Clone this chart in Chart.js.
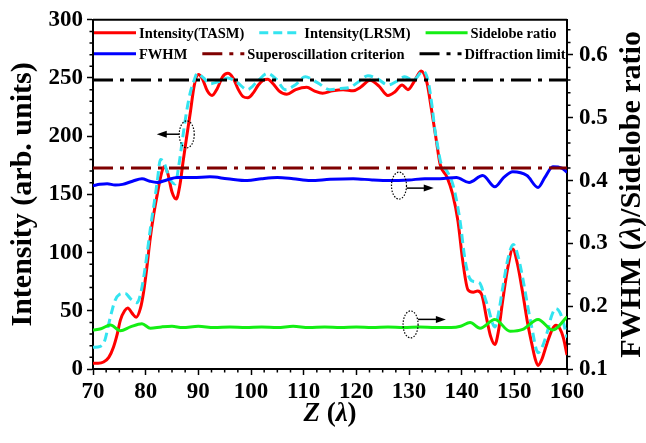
<!DOCTYPE html>
<html>
<head>
<meta charset="utf-8">
<script src="https://cdn.jsdelivr.net/npm/chart.js@4.4.1/dist/chart.umd.min.js"></script>
<style>
  html, body { margin: 0; padding: 0; background: #fff; }
</style>
</head>
<body>
<canvas id="chart" width="646" height="443"></canvas>
<script>
// Axial profile along Z (in λ)
const tasmZ = [70, 71, 72, 73, 73.9, 74.6, 75.2, 76, 76.6, 77.4, 78.2, 79, 79.6, 80.3, 80.8, 81.5, 82.2, 83, 83.5, 84.2, 85, 85.8, 86.5, 87.1, 87.8, 88.5, 89.2, 90, 90.8, 91.7, 92.6, 93.6, 94.6, 95.6, 96.6, 97.6, 98.5, 99.4, 100.4, 101.4, 102.3, 103.2, 104.2, 105.3, 106.8, 108.5, 110.6, 112, 113.6, 115.5, 117.5, 119.4, 120.8, 122.6, 124.3, 126, 127.3, 128.7, 129.8, 131, 132.3, 133.4, 134.3, 135.2, 135.9, 137.2, 138.3, 139.3, 140.2, 141.2, 142.2, 143, 143.8, 144.8, 145.5, 146.3, 147, 147.8, 148.8, 149.7, 150.6, 151.6, 152.5, 153.3, 154, 154.5, 155.2, 156.2, 157.2, 157.9, 158.6, 159.3, 160];
const tasmI = [5, 5, 6, 10, 19, 30, 42, 50, 52.5, 48, 44.5, 52, 66, 90, 110, 132, 150, 168, 174, 168, 152, 146, 158, 178, 200, 221, 243, 253, 249, 239, 235, 241, 251, 254, 250, 240, 234, 233, 237, 244, 248, 249, 245, 239, 236, 240, 242, 239, 237, 239, 240, 239, 242, 248, 243, 235, 238, 244, 240, 247, 256, 246, 222, 196, 176, 165, 150, 127, 93, 68, 66, 67, 64, 42, 28, 21, 33, 59, 88, 103, 90, 65, 40, 22, 8, 3, 8, 22, 34, 37.5, 35, 27, 12];

const lrsmZ = [70, 71.4, 72.2, 73, 73.6, 74.2, 75, 76.1, 77.2, 78.4, 79, 79.6, 80.3, 80.9, 81.6, 82.2, 82.8, 83.5, 84.5, 85.6, 86.3, 87.1, 87.8, 88.5, 89.2, 89.8, 91, 92.2, 93.9, 95.6, 97.4, 99.3, 101.2, 103.1, 104.8, 106.5, 108.4, 110.3, 112.6, 115, 117, 118.8, 120.5, 122.2, 124.1, 126, 127.6, 129.2, 130.8, 132.7, 133.6, 134.4, 134.9, 135.5, 136, 137.2, 138, 138.7, 139.7, 140.6, 141.5, 142.4, 143.4, 144.3, 145, 146.3, 147, 147.8, 148.8, 149.8, 150.7, 151.6, 152.5, 153.3, 154.5, 155.3, 156.2, 157.1, 157.9, 158.6, 159.2, 160];
const lrsmI = [18.7, 19.5, 24, 39, 50, 59, 64, 65, 60, 57, 64, 78, 100, 121, 142, 161, 180, 177, 164, 159, 175, 201, 222, 238, 248, 254, 250, 245, 247, 250, 246, 240, 247, 254, 249, 240, 244, 251, 246, 240, 241, 242, 247, 252, 249, 244, 247, 251, 248, 256, 248, 225, 206, 190, 178, 170, 163, 152, 127, 95, 78, 75, 74, 63, 53, 36, 48, 70, 95, 107, 97, 78, 55, 36, 14, 19, 31, 46, 52, 49, 42, 27];

const fwhmZ = [70, 71.3, 72.7, 74.2, 75.6, 77.5, 79.3, 80.8, 82.2, 84, 86, 89, 92.2, 95.5, 99.3, 102, 105, 108, 111.3, 115, 119.4, 123, 126.4, 130, 133, 135.9, 139, 141.4, 144, 146.3, 148, 149.7, 152.4, 154.5, 155.8, 157.3, 159, 160];
const fwhmR = [0.392, 0.394, 0.395, 0.393, 0.394, 0.399, 0.403, 0.399, 0.397, 0.401, 0.405, 0.405, 0.406, 0.403, 0.400, 0.403, 0.405, 0.403, 0.400, 0.402, 0.403, 0.401, 0.400, 0.401, 0.403, 0.403, 0.405, 0.397, 0.408, 0.390, 0.405, 0.414, 0.408, 0.389, 0.405, 0.422, 0.420, 0.413];

const sideZ = [70, 71.5, 73.3, 75.2, 77.1, 79.3, 80.9, 83, 85, 87, 90, 93, 96, 99, 102, 105, 108, 111, 114, 117, 120, 123, 126, 129, 132, 135, 138, 139.8, 141.6, 143.5, 146.3, 149.2, 151.6, 154.5, 157.3, 160];
const sideR = [0.162, 0.164, 0.170, 0.161, 0.167, 0.172, 0.165, 0.167, 0.168, 0.166, 0.168, 0.166, 0.167, 0.166, 0.167, 0.166, 0.168, 0.166, 0.167, 0.166, 0.167, 0.166, 0.167, 0.166, 0.167, 0.166, 0.166, 0.168, 0.174, 0.165, 0.179, 0.160, 0.163, 0.179, 0.162, 0.183];

// Reference levels on the right axis
const zRange = [70, 160];
const superCriterion = 0.42;
const diffractionLimit = 0.56;

// Axis ticks
const xTicks = { min: 70, max: 160, step: 10, minor: 2.5 };
const yTicks = { min: 0, max: 300, step: 50, minor: 10 };
const y2Ticks = { min: 0.1, max: 0.656, step: 0.1, minor: 0.02 };

// Dotted ellipses with arrows pointing to the axis each curve belongs to
const markers = [
  { axis: 'y', z: 87.8, v: 201.6, arrowV: 201.7, tipZ: 82.1 },
  { axis: 'y2', z: 128.1, v: 0.392, arrowV: 0.388, tipZ: 134.7 },
  { axis: 'y2', z: 130.3, v: 0.171, arrowV: 0.179, tipZ: 137 }
];

const serif = '"Liberation Serif", "Times New Roman", serif';
const toPoints = (xs, ys) => xs.map((x, i) => ({ x: x, y: ys[i] }));
const flat = (v) => zRange.map(x => ({ x: x, y: v }));
const dashDot = [20, 7, 4, 7];

const datasets = [
  { label: 'Intensity(TASM)', data: toPoints(tasmZ, tasmI), yAxisID: 'y',
    borderColor: '#ff0000', borderWidth: 3, order: 5 },
  { label: 'Intensity(LRSM)', data: toPoints(lrsmZ, lrsmI), yAxisID: 'y',
    borderColor: '#33e4f0', borderWidth: 3, borderDash: [9, 5], order: 4 },
  { label: 'Sidelobe ratio', data: toPoints(sideZ, sideR), yAxisID: 'y2',
    borderColor: '#14ee14', borderWidth: 3, order: 3 },
  { label: 'FWHM', data: toPoints(fwhmZ, fwhmR), yAxisID: 'y2',
    borderColor: '#0000ff', borderWidth: 3, order: 2 },
  { label: 'Superoscillation criterion', data: flat(superCriterion), yAxisID: 'y2',
    borderColor: '#7f0000', borderWidth: 3, borderDash: dashDot, order: 1 },
  { label: 'Diffraction limit', data: flat(diffractionLimit), yAxisID: 'y2',
    borderColor: '#000000', borderWidth: 3, borderDash: dashDot, order: 0 }
];
datasets.forEach(d => {
  d.pointRadius = 0;
  d.fill = false;
  d.cubicInterpolationMode = 'monotone';
});

const tickFont = { family: serif, size: 23, weight: 'bold' };
const gridOpts = { drawOnChartArea: false, tickLength: 6, tickColor: '#000', tickWidth: 1.5 };
const borderOpts = { color: '#000', width: 2 };

// legend drawn inside the plot, flowing left to right
const insetLegend = {
  id: 'insetLegend',
  afterDraw(chart) {
    const { ctx, chartArea } = chart;
    const sample = 42, gap = 3, spacing = 15, rowH = 21;
    ctx.save();
    ctx.font = 'bold 14.5px ' + serif;
    ctx.textBaseline = 'middle';
    let x = chartArea.left + 1, y = chartArea.top + 13;
    chart.data.datasets.forEach(ds => {
      const w = sample + gap + ctx.measureText(ds.label).width;
      if (x + w > chartArea.right + 2) {
        x = chartArea.left + 1;
        y += rowH;
      }
      ctx.strokeStyle = ds.borderColor;
      ctx.lineWidth = 3;
      ctx.setLineDash(ds.borderDash || []);
      ctx.beginPath();
      ctx.moveTo(x, y);
      ctx.lineTo(x + sample, y);
      ctx.stroke();
      ctx.setLineDash([]);
      ctx.fillStyle = '#000';
      ctx.fillText(ds.label, x + sample + gap, y + 1);
      x += w + spacing;
    });
    ctx.restore();
  }
};

// frame, minor ticks, markers and axis titles
const decorations = {
  id: 'decorations',
  afterDraw(chart) {
    const { ctx, chartArea, scales } = chart;
    ctx.save();
    ctx.strokeStyle = '#000';
    ctx.lineWidth = 2;
    ctx.beginPath();
    ctx.moveTo(chartArea.left, chartArea.top);
    ctx.lineTo(chartArea.right, chartArea.top);
    ctx.stroke();

    ctx.lineWidth = 1.5;
    const minor = (scale, t, draw) => {
      for (let v = t.min; v <= t.max + 1e-9; v += t.minor) {
        const k = (v - t.min) / t.step;
        if (Math.abs(k - Math.round(k)) < 1e-6) continue;
        draw(scale.getPixelForValue(v));
      }
    };
    ctx.beginPath();
    minor(scales.x, xTicks, p => { ctx.moveTo(p, chartArea.bottom); ctx.lineTo(p, chartArea.bottom + 3.5); });
    minor(scales.y, yTicks, p => { ctx.moveTo(chartArea.left, p); ctx.lineTo(chartArea.left - 3.5, p); });
    minor(scales.y2, y2Ticks, p => { ctx.moveTo(chartArea.right, p); ctx.lineTo(chartArea.right + 3.5, p); });
    ctx.stroke();

    markers.forEach(m => {
      const cx = scales.x.getPixelForValue(m.z);
      const cy = scales[m.axis].getPixelForValue(m.v);
      const ay = scales[m.axis].getPixelForValue(m.arrowV);
      const tip = scales.x.getPixelForValue(m.tipZ);
      const rx = 7.5, ry = 13.5;
      ctx.lineWidth = 1.2;
      ctx.setLineDash([1.5, 1.5]);
      ctx.beginPath();
      ctx.ellipse(cx, cy, rx, ry, 0, 0, Math.PI * 2);
      ctx.stroke();
      ctx.setLineDash([]);
      const dir = tip > cx ? 1 : -1;
      const start = cx + dir * rx;
      ctx.lineWidth = 1.5;
      ctx.beginPath();
      ctx.moveTo(start, ay);
      ctx.lineTo(tip - dir * 8, ay);
      ctx.stroke();
      ctx.fillStyle = '#000';
      ctx.beginPath();
      ctx.moveTo(tip, ay);
      ctx.lineTo(tip - dir * 10, ay - 3.5);
      ctx.lineTo(tip - dir * 10, ay + 3.5);
      ctx.closePath();
      ctx.fill();
    });

    const runs = (parts, x, y) => {
      let total = 0;
      parts.forEach(p => { ctx.font = p[1]; total += ctx.measureText(p[0]).width; });
      let cx = x - total / 2;
      parts.forEach(p => {
        ctx.font = p[1];
        ctx.fillText(p[0], cx, y);
        cx += ctx.measureText(p[0]).width;
      });
    };
    const b = 'bold 30px ' + serif, bi = 'italic bold 30px ' + serif;
    const midY = (chartArea.top + chartArea.bottom) / 2;
    ctx.fillStyle = '#000';
    ctx.textAlign = 'left';
    ctx.textBaseline = 'middle';

    ctx.save();
    ctx.translate(23, midY);
    ctx.rotate(-Math.PI / 2);
    runs([['Intensity (arb. units)', b]], 0, 0);
    ctx.restore();

    ctx.save();
    ctx.translate(632, midY);
    ctx.rotate(-Math.PI / 2);
    runs([['FWHM (', b], ['\u03BB', bi], [')/Sidelobe ratio', b]], 0, 0);
    ctx.restore();

    const xb = 'bold 27px ' + serif, xbi = 'italic bold 27px ' + serif;
    runs([['Z', xbi], [' (', xb], ['\u03BB', xbi], [')', xb]], (chartArea.left + chartArea.right) / 2, 414);
    ctx.restore();
  }
};

new Chart(document.getElementById('chart'), {
  type: 'line',
  data: { datasets: datasets },
  options: {
    responsive: false,
    animation: false,
    devicePixelRatio: 1,
    layout: { padding: { top: 17, left: 0, right: 0, bottom: 0 } },
    plugins: { legend: { display: false }, tooltip: { enabled: false } },
    scales: {
      x: {
        type: 'linear', position: 'bottom', min: xTicks.min, max: xTicks.max,
        ticks: { stepSize: xTicks.step, font: tickFont, color: '#000', padding: 3, maxRotation: 0 },
        grid: gridOpts, border: borderOpts,
        afterFit: s => { s.height = 74; }
      },
      y: {
        type: 'linear', position: 'left', min: yTicks.min, max: yTicks.max,
        ticks: { stepSize: yTicks.step, font: tickFont, color: '#000', padding: 4 },
        grid: gridOpts, border: borderOpts,
        afterFit: s => { s.width = 93; }
      },
      y2: {
        type: 'linear', position: 'right', min: y2Ticks.min, max: y2Ticks.max,
        ticks: { stepSize: y2Ticks.step, includeBounds: false, font: tickFont, color: '#000', padding: 6,
                 callback: v => v.toFixed(1) },
        grid: gridOpts, border: borderOpts,
        afterFit: s => { s.width = 79; }
      }
    }
  },
  plugins: [insetLegend, decorations]
});
</script>
</body>
</html>
